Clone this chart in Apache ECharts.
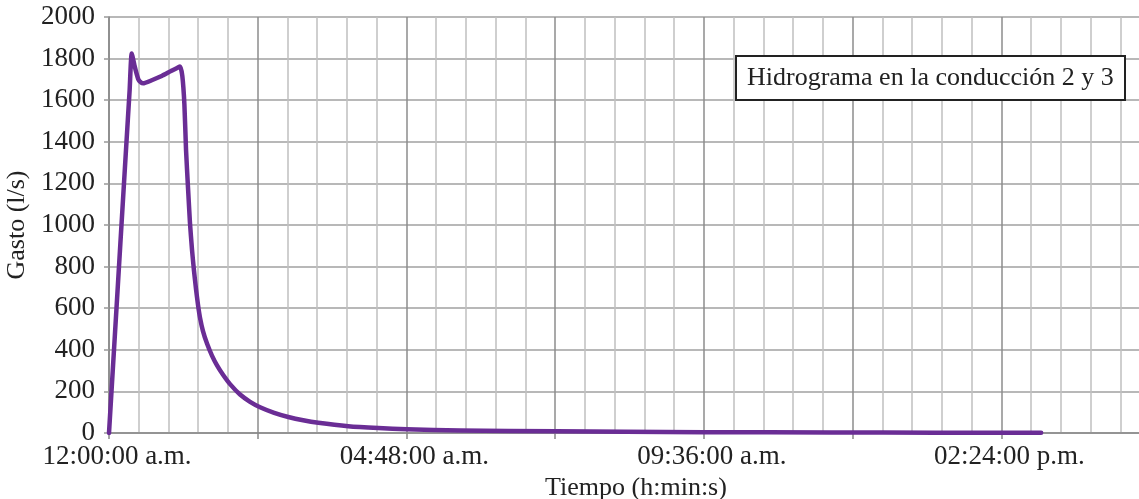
<!DOCTYPE html>
<html>
<head>
<meta charset="utf-8">
<script src="https://cdn.jsdelivr.net/npm/echarts@6/dist/echarts.min.js"></script>
<style>html,body{margin:0;padding:0;background:#fff;}#c{width:1139px;height:499px;}</style>
</head>
<body>
<div id="c"></div>
<script>
// time in minutes after 12:00:00 a.m.
const timeMin = [0, 5.5, 11, 16.5, 20, 22, 25, 28.4, 31, 33, 42, 51, 60, 66, 68.8, 71, 73, 74.6, 76.5, 78.4, 80.4, 82.3, 84.3, 86.2, 88.1, 91, 94.9, 99.7, 104.6, 110.4, 117.2, 126.9, 136.6, 146.3, 160, 173.6, 188, 202.7, 231.7, 260.8, 288.3, 340, 433, 500, 576, 700, 800, 902.6];
const flow = [0, 455, 910, 1365, 1650, 1825, 1760, 1700, 1685, 1681, 1697, 1716, 1740, 1755, 1762, 1716, 1580, 1360, 1180, 1010, 880, 780, 690, 615, 555, 490, 430, 372, 325, 280, 235, 185, 150, 124, 97, 77, 61, 49, 33, 24, 18, 12, 8, 6, 4, 2.5, 1.5, 1];
const xTickLabels = {0: '12:00:00 a.m.', 288: '04:48:00 a.m.', 576: '09:36:00 a.m.', 864: '02:24:00 p.m.'};
const seriesName = 'Hidrograma en la conducción 2 y 3';

const font = '"Liberation Serif", "DejaVu Serif", serif';
const chart = echarts.init(document.getElementById('c'), null, {renderer: 'canvas'});
chart.setOption({
  backgroundColor: '#fff',
  animation: false,
  title: {
    text: seriesName,
    left: 736, top: 56,
    padding: [8, 11, 8, 11],
    borderColor: '#222', borderWidth: 2, backgroundColor: '#fff',
    textStyle: {fontFamily: font, fontSize: 26, fontWeight: 'normal', color: '#222', lineHeight: 28}
  },
  grid: {left: 109, top: 17, bottom: 66, right: -11, containLabel: false, outerBoundsMode: 'none'},
  xAxis: {
    type: 'value', min: 0, max: 1008, interval: 144,
    name: 'Tiempo (h:min:s)', nameLocation: 'middle', nameGap: 33,
    nameTextStyle: {fontFamily: font, fontSize: 26, color: '#222', padding: [0, 0, 0, 13]},
    axisLine: {show: true, lineStyle: {color: '#888', width: 1.5}},
    axisTick: {show: true, length: 6, lineStyle: {color: '#888', width: 1.5}},
    minorTick: {show: false, splitNumber: 5},
    axisLabel: {
      fontFamily: font, fontSize: 27, color: '#222', margin: 10, padding: [0, 0, 0, 16],
      formatter: v => xTickLabels[Math.round(v)] || ''
    },
    splitLine: {show: true, lineStyle: {color: '#8c8c8c', width: 1.5}},
    minorSplitLine: {show: true, lineStyle: {color: '#c0c0c0', width: 1.5}}
  },
  yAxis: {
    type: 'value', min: 0, max: 2000, interval: 200,
    name: 'Gasto (l/s)', nameLocation: 'middle', nameGap: 72,
    nameTextStyle: {fontFamily: font, fontSize: 26, color: '#222'},
    axisLine: {show: true, lineStyle: {color: '#888', width: 1.5}},
    axisTick: {show: true, length: 5, lineStyle: {color: '#999', width: 1.5}},
    axisLabel: {fontFamily: font, fontSize: 27, color: '#222', margin: 14, padding: [4, 0, 0, 0], formatter: v => String(v)},
    splitLine: {show: true, lineStyle: {color: '#a0a0a0', width: 1.5}}
  },
  series: [{
    name: seriesName,
    type: 'line',
    data: timeMin.map((t, i) => [t, flow[i]]),
    showSymbol: false,
    smooth: 0.2,
    lineStyle: {color: '#6a2d95', width: 4.5, cap: 'round', join: 'round'},
    clip: true
  }]
});
</script>
</body>
</html>
